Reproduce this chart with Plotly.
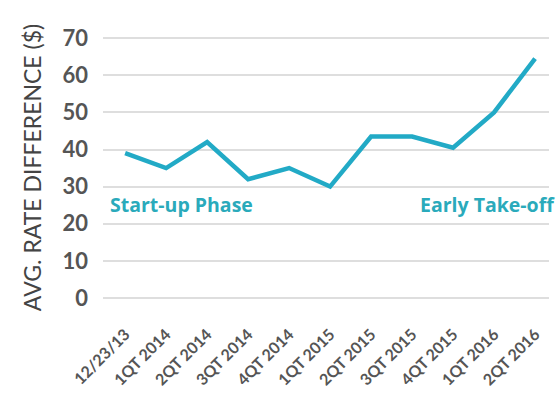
import plotly.graph_objects as go

categories = ["12/23/13", "1QT 2014", "2QT 2014", "3QT 2014", "4QT 2014", "1QT 2015",
              "2QT 2015", "3QT 2015", "4QT 2015", "1QT 2016", "2QT 2016"]
values = [39, 35, 42, 32, 35, 30, 43.5, 43.5, 40.5, 50, 64.5]
y_ticks = [0, 10, 20, 30, 40, 50, 60, 70]
phase_labels = ["Start-up Phase", "Early Take-off"]

fig = go.Figure()
fig.add_trace(go.Scatter(x=list(range(len(categories))), y=values, mode="lines",
                         line=dict(color="#22aac6", width=4.5), hoverinfo="skip"))

fig.update_layout(
    width=559, height=400,
    margin=dict(l=103, r=10, t=30, b=95),
    plot_bgcolor="white", paper_bgcolor="white",
    showlegend=False,
    annotations=[
        dict(x=0.012, y=0.364, xref="paper", yref="paper", text="<b>" + phase_labels[0] + "</b>",
             showarrow=False, xanchor="left", yanchor="middle",
             font=dict(family="Open Sans", size=19.5, color="#2aaabb")),
        dict(x=1.018, y=0.364, xref="paper", yref="paper", text="<b>" + phase_labels[1] + "</b>",
             showarrow=False, xanchor="right", yanchor="middle",
             font=dict(family="Open Sans", size=19.5, color="#2aaabb")),
    ],
    xaxis=dict(tickmode="array", tickvals=list(range(len(categories))), ticktext=categories,
               range=[-0.54, 10.34], showgrid=False, zeroline=False, tickangle=-45,
               ticklabelstandoff=16,
               tickfont=dict(family="Lato", size=16, color="#555", weight="bold"), ticks=""),
    yaxis=dict(range=[-1.9, 72.2], tickvals=y_ticks, showgrid=True, gridcolor="#dedede",
               gridwidth=1.5, zeroline=False, ticks="", ticklabelstandoff=14,
               tickfont=dict(family="Lato", size=22, color="#555", weight="bold"),
               title=dict(text="AVG. RATE DIFFERENCE ($)", standoff=14,
                          font=dict(family="Lato", size=23, color="#444"))),
)

fig.write_html("out.html")
